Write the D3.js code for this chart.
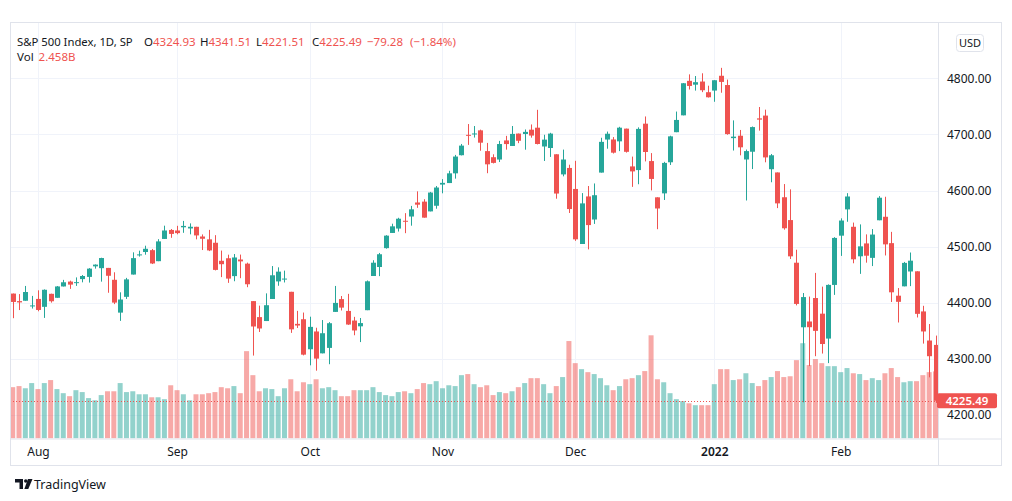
<!DOCTYPE html>
<html><head><meta charset="utf-8">
<script src="https://cdnjs.cloudflare.com/ajax/libs/d3/7.8.5/d3.min.js"></script>
<style>
html,body{margin:0;padding:0;background:#fff;}
svg text{font-family:"Noto Sans","Open Sans",sans-serif;}
</style></head>
<body>
<script>
// ---------------- DATA ----------------
const dates = ["2021-07-27","2021-07-28","2021-07-29","2021-07-30",
"2021-08-02","2021-08-03","2021-08-04","2021-08-05","2021-08-06","2021-08-09","2021-08-10","2021-08-11","2021-08-12","2021-08-13",
"2021-08-16","2021-08-17","2021-08-18","2021-08-19","2021-08-20","2021-08-23","2021-08-24","2021-08-25","2021-08-26","2021-08-27",
"2021-08-30","2021-08-31","2021-09-01","2021-09-02","2021-09-03","2021-09-07","2021-09-08","2021-09-09","2021-09-10","2021-09-13",
"2021-09-14","2021-09-15","2021-09-16","2021-09-17","2021-09-20","2021-09-21","2021-09-22","2021-09-23","2021-09-24","2021-09-27",
"2021-09-28","2021-09-29","2021-09-30","2021-10-01","2021-10-04","2021-10-05","2021-10-06","2021-10-07","2021-10-08","2021-10-11",
"2021-10-12","2021-10-13","2021-10-14","2021-10-15","2021-10-18","2021-10-19","2021-10-20","2021-10-21","2021-10-22","2021-10-25",
"2021-10-26","2021-10-27","2021-10-28","2021-10-29","2021-11-01","2021-11-02","2021-11-03","2021-11-04","2021-11-05","2021-11-08",
"2021-11-09","2021-11-10","2021-11-11","2021-11-12","2021-11-15","2021-11-16","2021-11-17","2021-11-18","2021-11-19","2021-11-22",
"2021-11-23","2021-11-24","2021-11-26","2021-11-29","2021-11-30","2021-12-01","2021-12-02","2021-12-03","2021-12-06","2021-12-07",
"2021-12-08","2021-12-09","2021-12-10","2021-12-13","2021-12-14","2021-12-15","2021-12-16","2021-12-17","2021-12-20","2021-12-21",
"2021-12-22","2021-12-23","2021-12-27","2021-12-28","2021-12-29","2021-12-30","2021-12-31","2022-01-03","2022-01-04","2022-01-05",
"2022-01-06","2022-01-07","2022-01-10","2022-01-11","2022-01-12","2022-01-13","2022-01-14","2022-01-18","2022-01-19","2022-01-20",
"2022-01-21","2022-01-24","2022-01-25","2022-01-26","2022-01-27","2022-01-28","2022-01-31","2022-02-01","2022-02-02","2022-02-03",
"2022-02-04","2022-02-07","2022-02-08","2022-02-09","2022-02-10","2022-02-11","2022-02-14","2022-02-15","2022-02-16","2022-02-17",
"2022-02-18","2022-02-22","2022-02-23"];

const opens = [4416.38,4402.95,4403.59,4395.12,
4406.86,4392.74,4415.95,4408.86,4429.07,4437.77,4435.79,4442.18,4446.08,4464.84,
4461.65,4462.12,4440.94,4382.44,4410.56,4450.29,4484.40,4490.45,4493.75,4474.10,
4513.76,4529.75,4528.80,4534.48,4532.42,4535.38,4518.09,4513.02,4506.92,4474.81,
4479.33,4447.49,4477.09,4469.74,4402.95,4374.45,4367.43,4406.75,4438.04,4442.12,
4419.54,4362.41,4370.67,4317.16,4348.84,4309.87,4319.57,4383.73,4406.51,4385.44,
4368.31,4358.01,4386.75,4447.69,4463.72,4497.34,4524.42,4532.24,4546.12,4553.69,
4578.69,4580.22,4562.84,4572.87,4610.62,4613.34,4630.65,4662.93,4699.26,4701.48,
4707.25,4670.26,4659.39,4655.24,4689.30,4679.42,4701.50,4700.72,4708.44,4712.00,
4678.48,4675.78,4664.63,4628.75,4640.25,4602.82,4504.73,4589.49,4548.37,4631.97,
4690.86,4691.00,4687.64,4710.30,4642.99,4636.46,4719.13,4652.50,4587.90,4594.96,
4650.36,4703.96,4733.99,4795.49,4788.64,4794.23,4775.21,4778.14,4804.51,4787.99,
4693.39,4697.66,4655.34,4669.14,4728.59,4733.56,4637.99,4632.24,4588.03,4547.35,
4471.38,4356.32,4366.64,4408.43,4380.58,4336.19,4431.79,4519.57,4566.39,4535.41,
4482.79,4505.75,4480.02,4547.00,4553.24,4506.27,4412.61,4429.28,4455.75,4456.06,
4384.57,4332.74,4324.93];

const highs = [4416.38,4415.47,4429.97,4412.25,
4422.18,4423.79,4416.17,4429.76,4440.82,4439.39,4445.21,4449.44,4461.77,4468.37,
4480.26,4462.12,4454.32,4418.61,4444.35,4489.88,4492.81,4501.71,4495.90,4513.33,
4537.36,4531.39,4537.11,4545.85,4541.45,4535.38,4521.79,4529.90,4520.47,4492.99,
4485.68,4486.87,4485.87,4471.52,4402.95,4394.87,4416.75,4465.40,4463.12,4457.30,
4419.54,4385.57,4382.55,4375.19,4355.51,4369.23,4365.57,4429.97,4412.02,4415.88,
4374.89,4372.87,4439.73,4475.82,4488.75,4520.40,4540.87,4551.44,4559.67,4572.62,
4598.53,4584.57,4597.55,4608.08,4620.34,4635.15,4663.46,4683.00,4718.50,4714.92,
4708.53,4684.85,4664.55,4688.47,4697.42,4714.95,4701.50,4708.80,4717.75,4743.83,
4699.39,4702.87,4664.63,4672.95,4646.02,4652.94,4595.46,4608.03,4612.60,4694.04,
4705.06,4695.26,4713.57,4710.30,4660.47,4712.60,4731.99,4666.70,4587.90,4651.14,
4697.67,4740.74,4791.49,4807.02,4804.06,4808.93,4786.83,4796.64,4818.62,4797.70,
4725.01,4707.95,4673.02,4714.13,4748.83,4744.13,4665.13,4632.24,4611.55,4602.11,
4494.52,4417.35,4411.01,4453.23,4428.74,4432.72,4516.89,4550.49,4595.31,4542.88,
4539.66,4521.86,4531.32,4590.03,4588.92,4526.33,4426.22,4472.77,4489.55,4456.06,
4394.60,4362.12,4341.51];

const lows = [4372.51,4387.01,4403.59,4389.65,
4384.81,4373.00,4400.23,4408.86,4429.07,4424.74,4430.03,4436.42,4435.96,4460.82,
4437.66,4417.83,4397.59,4367.73,4406.80,4450.29,4482.28,4485.66,4468.99,4474.10,
4513.76,4515.80,4522.02,4524.66,4521.94,4513.00,4493.95,4492.07,4457.66,4445.70,
4435.46,4438.37,4443.80,4427.76,4305.91,4347.96,4367.43,4406.75,4430.27,4436.19,
4346.33,4355.08,4306.24,4288.52,4278.94,4309.87,4290.49,4383.73,4386.22,4360.59,
4342.09,4329.92,4386.75,4447.69,4447.47,4496.41,4524.40,4526.89,4524.00,4537.36,
4569.17,4551.66,4562.84,4567.59,4595.06,4613.34,4621.19,4662.59,4681.32,4694.39,
4670.87,4630.86,4648.31,4650.77,4672.86,4679.42,4684.41,4672.78,4694.22,4682.17,
4652.66,4659.89,4585.43,4625.26,4560.00,4510.27,4504.73,4495.12,4540.51,4631.97,
4674.52,4665.98,4670.24,4667.60,4606.52,4611.22,4651.89,4600.22,4531.10,4583.16,
4645.53,4703.96,4733.99,4780.04,4778.08,4775.33,4765.75,4758.17,4774.27,4699.44,
4671.26,4662.74,4582.24,4638.27,4706.71,4650.29,4614.75,4568.70,4530.20,4477.95,
4395.34,4222.62,4287.11,4304.80,4309.50,4292.46,4414.02,4483.53,4544.32,4470.39,
4451.50,4471.47,4465.40,4547.00,4484.31,4401.41,4364.84,4429.28,4429.68,4373.81,
4327.22,4267.11,4221.51];

const closes = [4401.46,4400.64,4419.15,4395.26,
4387.16,4423.15,4402.66,4429.10,4436.52,4432.35,4436.75,4447.70,4460.83,4468.00,
4479.71,4448.08,4400.27,4405.80,4441.67,4479.53,4486.23,4496.19,4470.00,4509.37,
4528.79,4522.68,4524.09,4536.95,4535.43,4520.03,4514.07,4493.28,4458.58,4468.73,
4443.05,4480.70,4473.75,4432.99,4357.73,4354.19,4395.64,4448.98,4455.48,4443.11,
4352.63,4359.46,4307.54,4357.04,4300.46,4345.72,4363.55,4399.76,4391.34,4361.19,
4350.65,4363.80,4438.26,4471.37,4486.46,4519.63,4536.19,4549.78,4544.90,4566.48,
4574.79,4551.68,4596.42,4605.38,4613.67,4630.65,4660.57,4680.06,4697.53,4701.70,
4685.25,4646.71,4649.27,4682.85,4682.80,4700.90,4688.67,4704.54,4697.96,4682.94,
4690.70,4701.46,4594.62,4655.27,4567.00,4513.04,4577.10,4538.43,4591.67,4686.75,
4701.21,4667.45,4712.02,4668.97,4634.09,4709.85,4668.67,4620.64,4568.02,4649.23,
4696.56,4725.79,4791.19,4786.35,4793.06,4778.73,4766.18,4796.56,4793.54,4700.58,
4696.05,4677.03,4670.29,4713.07,4726.35,4659.03,4662.85,4577.11,4532.76,4482.73,
4397.94,4410.13,4356.45,4349.93,4326.51,4431.85,4515.55,4546.54,4589.38,4477.44,
4500.53,4483.87,4521.54,4587.18,4504.08,4418.64,4401.67,4471.07,4475.01,4380.26,
4348.87,4304.77,4225.49];

// volume in billions
const volumes = [1.88,1.92,1.84,2.03,
1.81,2.03,2.14,1.81,1.66,1.55,1.77,1.70,1.48,1.40,
1.59,1.73,1.73,2.03,1.70,1.73,1.62,1.62,1.51,1.51,
1.44,1.95,1.77,1.62,1.40,1.62,1.62,1.66,1.70,1.88,
1.84,1.92,1.66,3.20,2.32,1.73,1.84,1.81,1.55,1.84,
2.17,1.73,2.06,1.99,2.17,1.84,1.88,1.77,1.55,1.55,
1.77,1.77,1.77,1.88,1.70,1.59,1.55,1.70,1.73,1.66,
1.81,2.03,1.99,2.10,1.84,1.95,1.92,2.32,2.36,1.99,
1.88,1.95,1.59,1.70,1.66,1.73,1.88,2.03,2.21,2.21,
1.99,1.66,1.92,2.25,3.57,2.76,2.54,2.43,2.36,2.21,
1.95,1.77,1.92,2.17,2.21,2.32,2.47,3.78,2.17,2.06,
1.66,1.44,1.37,1.29,1.22,1.22,1.22,1.99,2.54,2.54,
2.14,2.17,2.39,2.03,1.92,2.14,2.25,2.47,2.25,2.28,
2.87,3.49,2.69,2.91,2.76,2.65,2.65,2.43,2.58,2.39,
2.36,2.14,2.21,2.14,2.39,2.58,2.25,2.06,2.10,2.10,
2.32,2.43,2.458];

const priceTicks = [4200,4300,4400,4500,4600,4700,4800];
const monthTicks = ["2021-08-02","2021-09-01","2021-10-01","2021-11-01","2021-12-01","2022-01-03","2022-02-01"];
const monthLabels = ["Aug","Sep","Oct","Nov","Dec","2022","Feb"];

// ---------------- LAYOUT ----------------
const W = 1012, H = 501;
const paneL = 10, paneR = 938, paneT = 22, paneB = 438.5, axisB = 465, outerR = 1001;
const UP = "#26a69a", DOWN = "#ef5350";
const UPV = "rgba(38,166,154,0.5)", DOWNV = "rgba(239,83,80,0.5)";
const TXT = "#131722", GRID = "#f0f3fa", BORDER = "#e0e3eb";

const svg = d3.select("body").append("svg").attr("width", W).attr("height", H);

const x = d3.scalePoint().domain(dates).range([12.7, 935.5]);
const y = d3.scaleLinear().domain([4200, 4800]).range([415, 78.3]);
const yv = d3.scaleLinear().domain([0, 4]).range([paneB, paneB - 109.2]);

const data = dates.map((d, i) => ({d, o: opens[i], h: highs[i], l: lows[i], c: closes[i], v: volumes[i]}));

svg.append("clipPath").attr("id", "pane").append("rect")
  .attr("x", paneL).attr("y", paneT).attr("width", paneR - paneL).attr("height", paneB - paneT);

// grid
const grid = svg.append("g").attr("clip-path", "url(#pane)");
grid.selectAll("line.h").data(priceTicks).join("line")
  .attr("x1", paneL).attr("x2", paneR)
  .attr("y1", d => Math.round(y(d)) + 0.5).attr("y2", d => Math.round(y(d)) + 0.5)
  .attr("stroke", GRID).attr("stroke-width", 1);
grid.selectAll("line.v").data(monthTicks).join("line")
  .attr("x1", d => Math.round(x(d)) + 0.5).attr("x2", d => Math.round(x(d)) + 0.5)
  .attr("y1", paneT).attr("y2", paneB)
  .attr("stroke", GRID).attr("stroke-width", 1);

// volume
const bw = 5;
const vol = svg.append("g").attr("clip-path", "url(#pane)");
vol.selectAll("rect").data(data).join("rect")
  .attr("x", d => x(d.d) - bw / 2)
  .attr("width", bw)
  .attr("y", d => yv(d.v))
  .attr("height", d => yv(0) - yv(d.v))
  .attr("fill", d => d.c >= d.o ? UPV : DOWNV);

// last price line (dotted)
const last = data[data.length - 1];
const prev = data[data.length - 2];
svg.append("line")
  .attr("x1", paneL).attr("x2", paneR)
  .attr("y1", Math.round(y(last.c)) + 0.5).attr("y2", Math.round(y(last.c)) + 0.5)
  .attr("stroke", DOWN).attr("stroke-width", 1).attr("stroke-dasharray", "1,2");

// candles
const cg = svg.append("g").attr("clip-path", "url(#pane)");
cg.selectAll("line").data(data).join("line")
  .attr("x1", d => Math.round(x(d.d)) + 0.5).attr("x2", d => Math.round(x(d.d)) + 0.5)
  .attr("y1", d => y(d.h)).attr("y2", d => y(d.l))
  .attr("stroke", d => d.c >= d.o ? UP : DOWN).attr("stroke-width", 1);
cg.selectAll("rect").data(data).join("rect")
  .attr("x", d => Math.round(x(d.d)) + 0.5 - bw / 2)
  .attr("width", bw)
  .attr("y", d => y(Math.max(d.o, d.c)))
  .attr("height", d => Math.max(1, Math.abs(y(d.o) - y(d.c))))
  .attr("fill", d => d.c >= d.o ? UP : DOWN);

// frame
svg.append("rect").attr("x", paneL + 0.5).attr("y", paneT + 0.5)
  .attr("width", outerR - paneL).attr("height", axisB - paneT)
  .attr("fill", "none").attr("stroke", BORDER);
svg.append("line").attr("x1", paneR + 0.5).attr("x2", paneR + 0.5).attr("y1", paneT).attr("y2", axisB)
  .attr("stroke", BORDER);
svg.append("line").attr("x1", paneL).attr("x2", outerR).attr("y1", paneB + 0.5).attr("y2", paneB + 0.5)
  .attr("stroke", BORDER);

// price axis
const pa = svg.append("g").attr("transform", `translate(${paneR},0)`);
const yAxis = d3.axisRight(y).tickValues(priceTicks).tickFormat(d3.format(".2f")).tickSize(0).tickPadding(9);
pa.call(yAxis);
pa.select(".domain").remove();
pa.selectAll("text").attr("fill", TXT).style("font-size", "12px");

// last price label
const lp = svg.append("g");
lp.append("rect").attr("x", paneR - 1).attr("y", y(last.c) - 7.5).attr("width", 60).attr("height", 15)
  .attr("rx", 2).attr("fill", DOWN);
lp.append("text").attr("x", paneR + 29).attr("y", y(last.c)).attr("dy", "0.35em")
  .attr("text-anchor", "middle").attr("fill", "#fff").style("font-size", "11.5px").style("font-weight", "600")
  .text(d3.format(".2f")(last.c));

// USD button
svg.append("rect").attr("x", 956.5).attr("y", 34.5).attr("width", 27).attr("height", 17).attr("rx", 3)
  .attr("fill", "#fff").attr("stroke", BORDER);
svg.append("text").attr("x", 970).attr("y", 43).attr("dy", "0.35em").attr("text-anchor", "middle")
  .attr("fill", TXT).style("font-size", "11px").text("USD");

// time axis
const ta = svg.append("g").attr("transform", `translate(0,${paneB})`);
const xAxis = d3.axisBottom(x).tickValues(monthTicks)
  .tickFormat(d => monthLabels[monthTicks.indexOf(d)]).tickSize(0).tickPadding(9);
ta.call(xAxis);
ta.select(".domain").remove();
ta.selectAll("text").attr("fill", TXT).style("font-size", "12px")
  .style("font-weight", d => monthLabels[monthTicks.indexOf(d)] === "2022" ? "600" : "400");

// header legend
const fmt = d3.format(".2f");
const chg = last.c - prev.c, pct = chg / prev.c * 100;
const signed = v => (v < 0 ? "\u2212" : "+") + fmt(Math.abs(v));
const hdrSize = "11.5px";
svg.append("text").attr("x", 17).attr("y", 46).style("font-size", "11.3px").attr("fill", TXT)
  .text("S&P 500 Index, 1D, SP");
const items = [
  {k: "O", v: fmt(last.o), x: 144},
  {k: "H", v: fmt(last.h), x: 200},
  {k: "L", v: fmt(last.l), x: 256},
  {k: "C", v: fmt(last.c), x: 312},
  {k: "", v: signed(chg), x: 367},
  {k: "", v: "(" + signed(pct) + "%)", x: 410}
];
items.forEach(it => {
  const t = svg.append("text").attr("x", it.x).attr("y", 46).style("font-size", hdrSize).attr("fill", TXT);
  if (it.k) t.append("tspan").text(it.k);
  t.append("tspan").attr("fill", DOWN).text(it.v);
});

const vl = svg.append("text").attr("x", 17).attr("y", 61).style("font-size", "11.5px").attr("fill", TXT);
vl.append("tspan").text("Vol");
vl.append("tspan").attr("dx", 5).attr("fill", DOWN).text(d3.format(".3f")(last.v) + "B");

// TradingView footer logo
const logo = svg.append("g").attr("fill", TXT);
logo.append("path").attr("d", "M15,479 h8 v10 h-3.5 v-6.5 h-4.5 z");
logo.append("circle").attr("cx", 25.8).attr("cy", 481).attr("r", 1.8);
logo.append("path").attr("d", "M28,479 h4.5 l-4.2,10 h-4 z");
svg.append("text").attr("x", 34).attr("y", 488.5).attr("fill", TXT).style("font-size", "12.5px").text("TradingView");
</script>
</body></html>
